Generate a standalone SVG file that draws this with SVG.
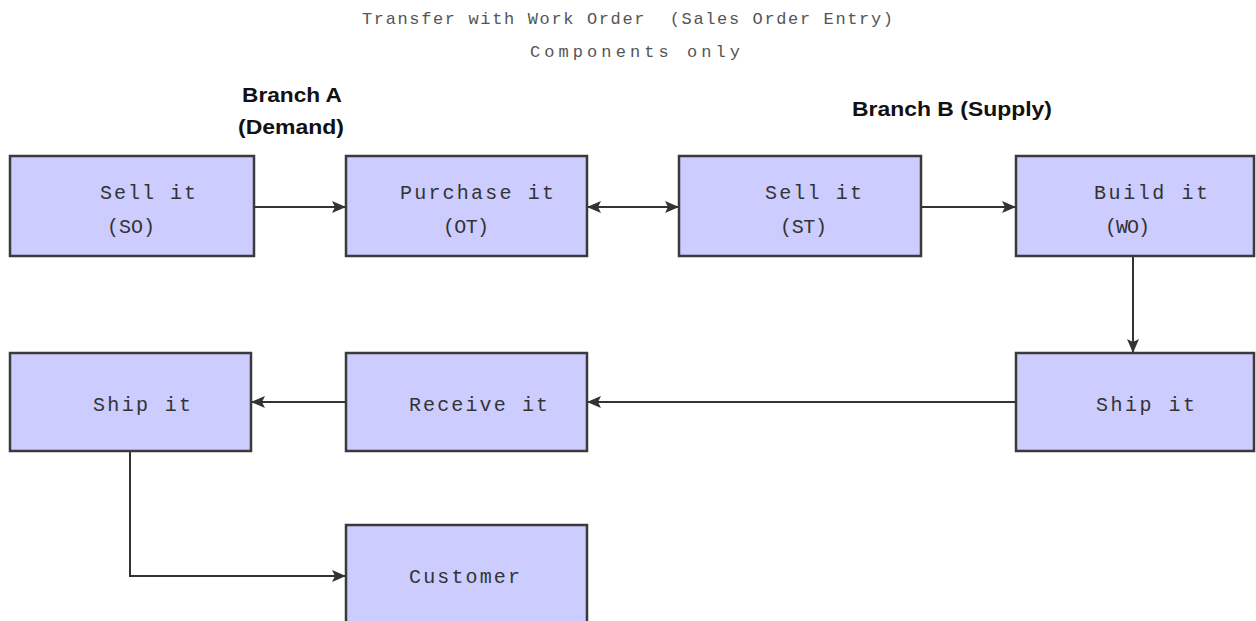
<svg xmlns="http://www.w3.org/2000/svg" width="1256" height="621" viewBox="0 0 1256 621">
<style>
.box{fill:#ccccff;stroke:#3a3a3a;stroke-width:2.5}
.lbl{font-family:"Liberation Mono",monospace;font-size:20px;fill:#333}
.title{font-family:"Liberation Mono",monospace;font-size:17px;fill:#555}
.br{font-family:"Liberation Sans",Arial,sans-serif;font-size:20px;font-weight:bold;fill:#111}
.conn{fill:none;stroke:#333;stroke-width:2}
</style>
<defs>
<marker id="ah" markerUnits="userSpaceOnUse" markerWidth="14" markerHeight="12" refX="13" refY="6" orient="auto-start-reverse" viewBox="0 0 14 12">
<path d="M0,0 L14,6 L0,12 L3,6 z" fill="#333"/>
</marker>
</defs>
<rect width="1256" height="621" fill="#fff"/>
<g id="title">
<text class="title" x="362" y="24" textLength="531" lengthAdjust="spacing" xml:space="preserve">Transfer with Work Order  (Sales Order Entry)</text>
<text class="title" x="530" y="57" textLength="210" lengthAdjust="spacing">Components only</text>
</g>
<g id="branchA">
<text class="br" x="242" y="102" textLength="100" lengthAdjust="spacingAndGlyphs">Branch A</text>
<text class="br" x="238" y="134" textLength="106" lengthAdjust="spacingAndGlyphs">(Demand)</text>
</g>
<g id="branchB">
<text class="br" x="852" y="116" textLength="200" lengthAdjust="spacingAndGlyphs">Branch B (Supply)</text>
</g>
<g id="connectors">
<line class="conn" x1="254" y1="207" x2="345" y2="207" marker-end="url(#ah)"/>
<line class="conn" x1="588" y1="207" x2="678" y2="207" marker-start="url(#ah)" marker-end="url(#ah)"/>
<line class="conn" x1="921" y1="207" x2="1015" y2="207" marker-end="url(#ah)"/>
<line class="conn" x1="1133" y1="256" x2="1133" y2="352" marker-end="url(#ah)"/>
<line class="conn" x1="1016" y1="402" x2="588" y2="402" marker-end="url(#ah)"/>
<line class="conn" x1="346" y1="402" x2="252" y2="402" marker-end="url(#ah)"/>
<polyline class="conn" points="130,451 130,576 345,576" marker-end="url(#ah)"/>
</g>
<g id="n-sell-so">
<rect class="box" x="10" y="156" width="244" height="100"/>
<text class="lbl" x="100" y="199" textLength="96" lengthAdjust="spacing">Sell it</text>
<text class="lbl" x="107" y="233" textLength="48" lengthAdjust="spacing">(SO)</text>
</g>
<g id="n-purchase-ot">
<rect class="box" x="346" y="156" width="241" height="100"/>
<text class="lbl" x="400" y="199" textLength="154" lengthAdjust="spacing">Purchase it</text>
<text class="lbl" x="443" y="233" textLength="46" lengthAdjust="spacing">(OT)</text>
</g>
<g id="n-sell-st">
<rect class="box" x="679" y="156" width="242" height="100"/>
<text class="lbl" x="765" y="199" textLength="97" lengthAdjust="spacing">Sell it</text>
<text class="lbl" x="780" y="233" textLength="47" lengthAdjust="spacing">(ST)</text>
</g>
<g id="n-build-wo">
<rect class="box" x="1016" y="156" width="238" height="100"/>
<text class="lbl" x="1094" y="199" textLength="114" lengthAdjust="spacing">Build it</text>
<text class="lbl" x="1105" y="233" textLength="45" lengthAdjust="spacing">(WO)</text>
</g>
<g id="n-ship-a">
<rect class="box" x="10" y="353" width="241" height="98"/>
<text class="lbl" x="93" y="411" textLength="98" lengthAdjust="spacing">Ship it</text>
</g>
<g id="n-receive">
<rect class="box" x="346" y="353" width="241" height="98"/>
<text class="lbl" x="409" y="411" textLength="139" lengthAdjust="spacing">Receive it</text>
</g>
<g id="n-ship-b">
<rect class="box" x="1016" y="353" width="238" height="98"/>
<text class="lbl" x="1096" y="411" textLength="99" lengthAdjust="spacing">Ship it</text>
</g>
<g id="n-customer">
<rect class="box" x="346" y="525" width="241" height="100"/>
<text class="lbl" x="409" y="583" textLength="111" lengthAdjust="spacing">Customer</text>
</g>
</svg>
